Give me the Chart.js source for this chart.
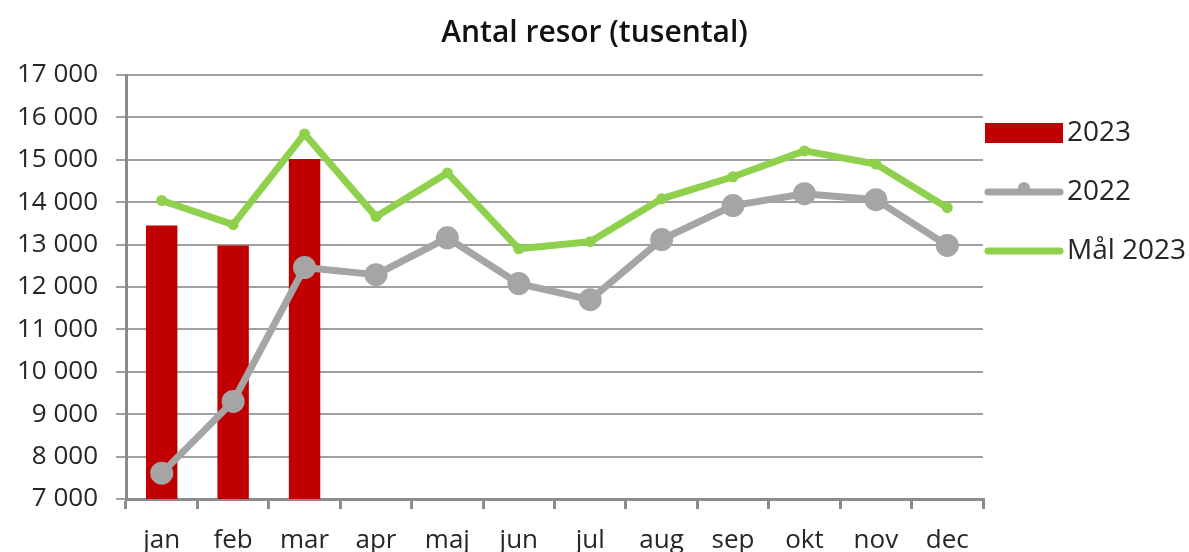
<!DOCTYPE html>
<html>
<head>
<meta charset="utf-8">
<script src="https://cdn.jsdelivr.net/npm/chart.js@4"></script>
<style>
  body { margin: 0; background: #fff; }
  #wrap { width: 1189px; height: 552px; }
</style>
</head>
<body>
<div id="wrap"><canvas id="chart" width="1189" height="552"></canvas></div>
<script>
const months = ["jan", "feb", "mar", "apr", "maj", "jun", "jul", "aug", "sep", "okt", "nov", "dec"];
const resor2023 = [13450, 12980, 15020, 7000, 7000, 7000, 7000, 7000, 7000, 7000, 7000, 7000];
const resor2022 = [7610, 9300, 12460, 12290, 13160, 12080, 11700, 13120, 13920, 14200, 14060, 12980];
const mal2023 = [14040, 13470, 15610, 13660, 14690, 12900, 13070, 14080, 14600, 15210, 14900, 13870];
const yTicks = [7000, 8000, 9000, 10000, 11000, 12000, 13000, 14000, 15000, 16000, 17000];

const RED = "#c00000";
const GREY = "#a5a5a5";
const GREEN = "#8fd04c";
const FONT = "'Open Sans', sans-serif";

function fmt(v) {
  return String(v).replace(/\B(?=(\d{3})+(?!\d))/g, " ");
}

// legend drawn on the right, like the Excel one
const sideLegend = {
  id: "sideLegend",
  afterDraw(chart) {
    const ctx = chart.ctx;
    const x = chart.chartArea.right + 2;
    const w = 78;
    const items = [
      { label: "2023", y: 133, type: "bar" },
      { label: "2022", y: 192, type: "marker" },
      { label: "Mål 2023", y: 251, type: "line" }
    ];
    ctx.save();
    items.forEach((it) => {
      if (it.type === "bar") {
        ctx.fillStyle = RED;
        ctx.fillRect(x, it.y - 10, w, 20);
      } else {
        ctx.strokeStyle = it.type === "marker" ? GREY : GREEN;
        ctx.lineWidth = 7;
        ctx.lineCap = "round";
        ctx.beginPath();
        ctx.moveTo(x + 3, it.y);
        ctx.lineTo(x + w - 3, it.y);
        ctx.stroke();
        if (it.type === "marker") {
          ctx.fillStyle = GREY;
          ctx.beginPath();
          ctx.arc(x + w / 2, it.y - 4, 6, 0, Math.PI * 2);
          ctx.fill();
        }
      }
      ctx.fillStyle = "#262626";
      ctx.font = "28px " + FONT;
      ctx.textBaseline = "middle";
      ctx.fillText(it.label, x + w + 4, it.y);
    });
    ctx.restore();
  }
};

new Chart(document.getElementById("chart"), {
  data: {
    labels: months,
    datasets: [
      {
        type: "line",
        label: "Mål 2023",
        data: mal2023,
        borderColor: GREEN,
        backgroundColor: GREEN,
        borderWidth: 7,
        pointRadius: 2,
        pointHoverRadius: 2,
        tension: 0,
        order: 1
      },
      {
        type: "line",
        label: "2022",
        data: resor2022,
        borderColor: GREY,
        backgroundColor: GREY,
        borderWidth: 7,
        pointRadius: 8,
        pointHoverRadius: 8,
        tension: 0,
        order: 2
      },
      {
        type: "bar",
        label: "2023",
        data: resor2023,
        backgroundColor: RED,
        barPercentage: 0.44,
        categoryPercentage: 1,
        minBarLength: 2,
        order: 3
      }
    ]
  },
  options: {
    responsive: false,
    animation: false,
    layout: { padding: 0 },
    plugins: {
      legend: { display: false },
      tooltip: { enabled: false },
      title: {
        display: true,
        text: "Antal resor (tusental)",
        color: "#111",
        font: { family: FONT, size: 30, weight: "600" },
        padding: { top: 15, bottom: 24 }
      }
    },
    scales: {
      x: {
        offset: true,
        grid: {
          offset: true,
          drawOnChartArea: false,
          drawTicks: true,
          tickLength: 10,
          color: "#8c8c8c",
          lineWidth: 3
        },
        border: { color: "#8c8c8c", width: 3 },
        ticks: {
          color: "#262626",
          font: { family: FONT, size: 26 },
          padding: 16,
          maxRotation: 0
        },
        afterFit(scale) { scale.height = 53; }
      },
      y: {
        min: 7000,
        max: 17000,
        afterBuildTicks(scale) {
          scale.ticks = yTicks.map((v) => ({ value: v }));
        },
        grid: {
          color: "#a0a0a0",
          lineWidth: 2,
          drawTicks: true,
          tickLength: 10
        },
        border: { color: "#8c8c8c", width: 3 },
        ticks: {
          color: "#262626",
          font: { family: FONT, size: 26 },
          padding: 18,
          callback: (v) => fmt(v)
        },
        afterFit(scale) { scale.width = 126; }
      },
      // empty right axis only reserves room for the legend
      side: {
        position: "right",
        display: true,
        grid: { display: false, drawTicks: false },
        border: { display: false },
        ticks: { display: false },
        afterFit(scale) { scale.width = 206; }
      }
    }
  },
  plugins: [sideLegend]
});
</script>
</body>
</html>
